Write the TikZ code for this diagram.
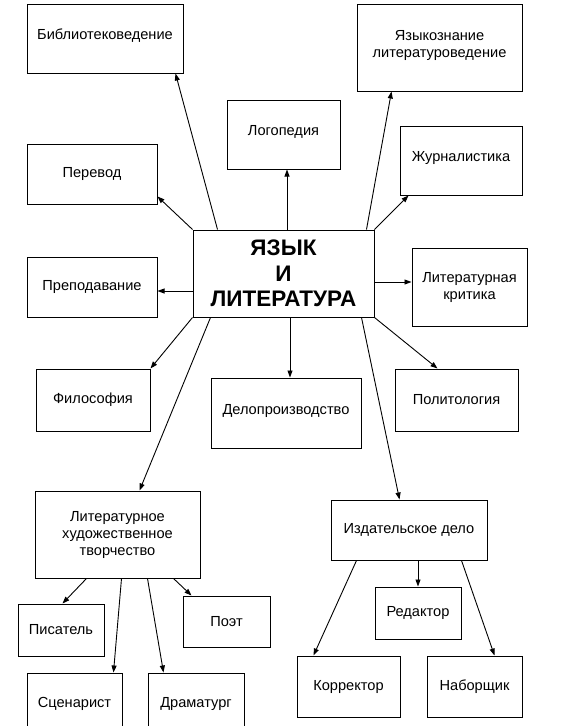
\documentclass[tikz,border=0pt]{standalone}
\usepackage{fontspec}
\setmainfont{Liberation Sans}
\usetikzlibrary{arrows.meta}

\begin{document}
\begin{tikzpicture}[
  x=1pt,y=-1pt,
  box/.style={draw=black,fill=white,line width=1pt,align=center,
              font=\fontsize{14.6}{17}\selectfont,inner sep=2pt},
  raised/.style={text depth=8pt},
  hub/.style={draw=black,fill=white,line width=1pt,align=center,
              font=\fontsize{22.5}{25.5}\selectfont\bfseries,
              minimum width=181pt,minimum height=87pt},
  ar/.style={-{Triangle[length=7pt,width=5pt]},draw=black,line width=0.9pt}
]
\useasboundingbox[fill=white] (0,0) rectangle (583,726);

\node[hub] (c) at (283.5,273.5) {ЯЗЫК\\И\\ЛИТЕРАТУРА};

\node[box,raised,minimum width=156pt,minimum height=69pt] (bib) at (105,38.5) {Библиотековедение};
\node[box,raised,minimum width=165pt,minimum height=87pt] (yaz) at (439.5,47.5) {Языкознание\\литературоведение};
\node[box,raised,minimum width=113pt,minimum height=69pt] (log) at (283.5,134.5) {Логопедия};
\node[box,minimum width=130pt,minimum height=60pt] (per) at (92,174) {Перевод};
\node[box,raised,minimum width=122pt,minimum height=69pt] (zhur) at (461,160.5) {Журналистика};
\node[box,minimum width=130pt,minimum height=60pt] (prep) at (92,287) {Преподавание};
\node[box,minimum width=115pt,minimum height=78pt] (krit) at (469.5,287) {Литературная\\критика};
\node[box,minimum width=114pt,minimum height=62pt] (fil) at (93,400) {Философия};
\node[box,raised,minimum width=150pt,minimum height=70pt] (del) at (286,413) {Делопроизводство};
\node[box,minimum width=123pt,minimum height=62pt] (pol) at (456.5,400) {Политология};

\node[box,minimum width=165pt,minimum height=87pt] (lit) at (117.5,534.5) {Литературное\\художественное\\творчество};
\node[box,minimum width=86pt,minimum height=52pt] (pis) at (61,630) {Писатель};
\node[box,minimum width=87pt,minimum height=51pt] (poet) at (226.5,621.5) {Поэт};
\node[box,minimum width=95pt,minimum height=62pt] (scen) at (74.5,704) {Сценарист};
\node[box,minimum width=96pt,minimum height=62pt] (dram) at (196,704) {Драматург};

\node[box,minimum width=156pt,minimum height=60pt] (izd) at (409,530) {Издательское дело};
\node[box,minimum width=86pt,minimum height=52pt] (red) at (418,613) {Редактор};
\node[box,minimum width=103pt,minimum height=61pt] (kor) at (348.5,686.5) {Корректор};
\node[box,minimum width=95pt,minimum height=61pt] (nab) at (474.5,686.5) {Наборщик};

\draw[ar] ([xshift=25pt]c.north west) -- ([xshift=149pt]bib.south west);
\draw[ar] (c.north west) -- ([yshift=8pt]per.south east);
\draw[ar] ([xshift=3.5pt]c.north) -- ([xshift=3.5pt]log.south);
\draw[ar] ([xshift=-8pt]c.north east) -- ([xshift=35pt]yaz.south west);
\draw[ar] (c.north east) -- ([xshift=9pt]zhur.south west);
\draw[ar] ([yshift=-17.5pt]c.west) -- ([yshift=-17.5pt]c.west -| prep.east);
\draw[ar] ([yshift=-8.5pt]c.east) -- ([yshift=-8.5pt]c.east -| krit.west);
\draw[ar] (c.south west) -- (fil.north east);
\draw[ar] ([xshift=6.5pt]c.south) -- ([xshift=6.5pt]c.south |- del.north);
\draw[ar] (c.south east) -- ([xshift=43pt]pol.north west);
\draw[ar] ([xshift=18pt]c.south west) -- ([xshift=105pt]lit.north west);
\draw[ar] ([xshift=-13pt]c.south east) -- ([xshift=69pt]izd.north west);

\draw[ar] ([xshift=52pt]lit.south west) -- ([xshift=45pt]pis.north west);
\draw[ar] ([xshift=87pt]lit.south west) -- ([xshift=87pt]scen.north west);
\draw[ar] ([xshift=113pt]lit.south west) -- ([xshift=16pt]dram.north west);
\draw[ar] ([xshift=139pt]lit.south west) -- ([xshift=9pt]poet.north west);

\draw[ar] ([xshift=9pt]izd.south) -- (red.north);
\draw[ar] ([xshift=26pt]izd.south west) -- ([xshift=17pt]kor.north west);
\draw[ar] ([xshift=131pt]izd.south west) -- ([xshift=68pt]nab.north west);
\end{tikzpicture}
\end{document}
